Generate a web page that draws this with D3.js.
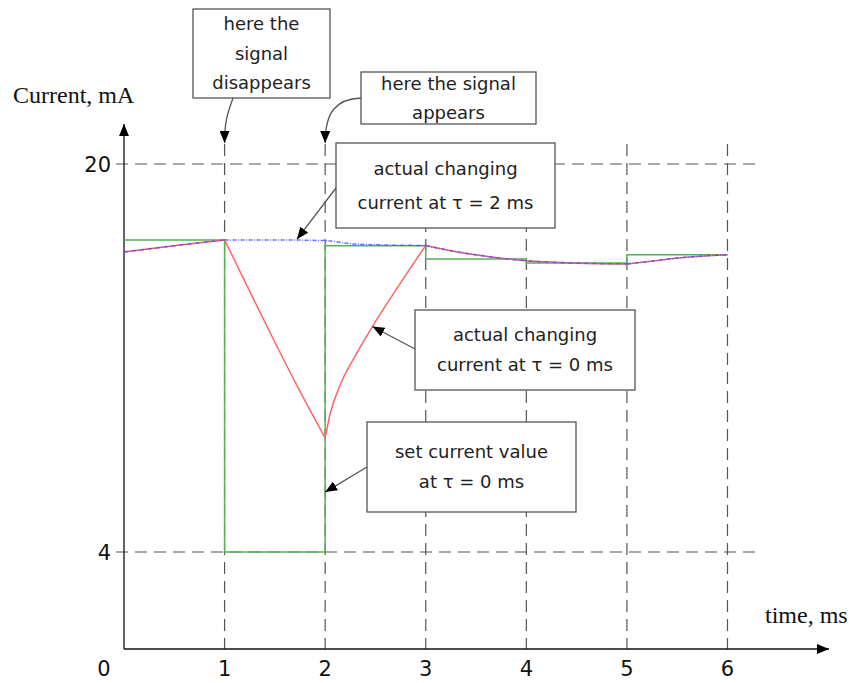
<!DOCTYPE html>
<meta charset="utf-8">
<style>
    body { margin: 0; background: #fff; }
    svg { display: block; }
    .grid { stroke: #555; stroke-width: 1.2px; stroke-dasharray: 12 7; fill: none; }
    .axis { stroke: #111; stroke-width: 1.3px; fill: none; }
    .tick { font-family: "DejaVu Sans", Verdana, sans-serif; font-size: 21px; fill: #111; }
    .title { font-family: "Liberation Serif", "Times New Roman", serif; font-size: 24px; fill: #111; }
    .box rect { fill: #fff; stroke: #555; stroke-width: 1.3px; }
    .box text { font-family: "DejaVu Sans", Verdana, sans-serif; font-size: 18px; fill: #222; }
    .pointer { stroke: #555; stroke-width: 1.3px; fill: none; }
</style>
<body>
<script src="https://d3js.org/d3.v7.min.js"></script>
<script>
    // ---- data (time in ms, current in mA) ----
    var xTicks = [1, 2, 3, 4, 5, 6];
    var yTicks = [4, 20];

    var setTime = [0, 1, 1, 2, 2, 3, 3, 4, 4, 5, 5, 6];
    var setCurrent = [16.87, 16.87, 4, 4, 16.63, 16.63, 16.08, 16.08, 15.92, 15.92, 16.26, 16.26];

    var tau0Time = [0, 0.3, 0.62, 1, 1.25, 1.5, 1.75, 2, 2.05, 2.15, 2.3, 2.5, 2.75, 3, 3.28, 3.61, 4, 4.44, 5, 5.28, 5.5, 6];
    var tau0Current = [16.37, 16.53, 16.69, 16.87, 14.75, 12.65, 10.62, 8.7, 9.7, 10.9, 12.1, 13.5, 15.1, 16.64, 16.4, 16.19, 16.01, 15.92, 15.88, 16.01, 16.12, 16.26];
    var tau0Corners = [1, 2, 3, 5];

    var tau2Time = [0, 0.3, 0.62, 1, 1.5, 2, 2.28, 2.61, 3, 3.28, 3.61, 4, 4.44, 5, 5.28, 5.5, 6];
    var tau2Current = [16.37, 16.53, 16.69, 16.87, 16.87, 16.84, 16.7, 16.66, 16.64, 16.4, 16.19, 16.01, 15.92, 15.88, 16.01, 16.12, 16.26];
    var tau2Corners = [1, 3, 5];

    // annotation boxes (pixel layout) and where their arrows point (data coords)
    var notes = [
        { lines: ["here the", "signal", "disappears"], x: 193, y: 9, w: 137, h: 89, dy: 29.5 },
        { lines: ["here the signal", "appears"], x: 361, y: 72, w: 175, h: 52, dy: 29 },
        { lines: ["actual changing", "current at \u03c4 = 2 ms"], x: 336, y: 143, w: 219, h: 85, dy: 34 },
        { lines: ["actual changing", "current at \u03c4 = 0 ms"], x: 415, y: 310, w: 220, h: 80, dy: 30 },
        { lines: ["set current value", "at \u03c4 = 0 ms"], x: 367, y: 422, w: 209, h: 90, dy: 30 }
    ];

    var width = 851, height = 683;

    var x = d3.scaleLinear().domain([0, 6]).range([124, 727.5]);
    var y = d3.scaleLinear().domain([0, 20]).range([649, 164]);

    var svg = d3.select("body").append("svg")
        .attr("width", width)
        .attr("height", height);

    var defs = svg.append("defs");
    defs.append("marker")
        .attr("id", "head")
        .attr("viewBox", "0 0 12 10")
        .attr("refX", 12).attr("refY", 5)
        .attr("markerWidth", 12).attr("markerHeight", 10)
        .attr("markerUnits", "userSpaceOnUse")
        .attr("orient", "auto")
        .append("path")
        .attr("d", "M0,0 L12,5 L0,10 Z")
        .attr("fill", "#000");

    /* ------- GRID -------*/
    var grid = svg.append("g");
    grid.selectAll("line.h").data(yTicks).enter().append("line")
        .attr("class", "grid")
        .attr("x1", 116).attr("x2", 760)
        .attr("y1", function (d) { return y(d); })
        .attr("y2", function (d) { return y(d); });
    grid.selectAll("line.v").data(xTicks).enter().append("line")
        .attr("class", "grid")
        .attr("x1", function (d) { return x(d); })
        .attr("x2", function (d) { return x(d); })
        .attr("y1", 144).attr("y2", y(0));

    /* ------- AXES -------*/
    svg.append("line").attr("class", "axis")
        .attr("x1", x(0)).attr("y1", y(0)).attr("x2", x(0)).attr("y2", 124)
        .attr("marker-end", "url(#head)");
    svg.append("line").attr("class", "axis")
        .attr("x1", x(0)).attr("y1", y(0)).attr("x2", 829).attr("y2", y(0))
        .attr("marker-end", "url(#head)");

    svg.selectAll("text.xt").data(xTicks).enter().append("text")
        .attr("class", "tick")
        .attr("x", function (d) { return x(d); })
        .attr("y", 676)
        .attr("text-anchor", "middle")
        .text(function (d) { return d; });
    svg.append("text").attr("class", "tick")
        .attr("x", 104).attr("y", 676).attr("text-anchor", "middle").text("0");
    svg.selectAll("text.yt").data(yTicks).enter().append("text")
        .attr("class", "tick")
        .attr("x", 111)
        .attr("y", function (d) { return y(d) + 8; })
        .attr("text-anchor", "end")
        .text(function (d) { return d; });

    svg.append("text").attr("class", "title")
        .attr("x", 13).attr("y", 103).text("Current, mA");
    svg.append("text").attr("class", "title")
        .attr("x", 765).attr("y", 623).text("time, ms");

    /* ------- SERIES -------*/
    function pieces(ts, vs, corners) {
        var out = [], cur = [];
        ts.forEach(function (t, i) {
            cur.push([t, vs[i]]);
            if (corners.indexOf(t) >= 0 && cur.length > 1) {
                out.push(cur);
                cur = [[t, vs[i]]];
            }
        });
        if (cur.length > 1) out.push(cur);
        return out;
    }

    var smooth = d3.line()
        .x(function (d) { return x(d[0]); })
        .y(function (d) { return y(d[1]); })
        .curve(d3.curveMonotoneX);

    var straight = d3.line()
        .x(function (d) { return x(d[0]); })
        .y(function (d) { return y(d[1]); });

    svg.append("path")
        .datum(setTime.map(function (t, i) { return [t, setCurrent[i]]; }))
        .attr("d", straight)
        .attr("fill", "none")
        .attr("stroke", "#55b255")
        .attr("stroke-width", 1.5);

    svg.append("g").selectAll("path")
        .data(pieces(tau0Time, tau0Current, tau0Corners))
        .enter().append("path")
        .attr("d", smooth)
        .attr("fill", "none")
        .attr("stroke", "#ff6666")
        .attr("stroke-width", 1.5);

    svg.append("g").selectAll("path")
        .data(pieces(tau2Time, tau2Current, tau2Corners))
        .enter().append("path")
        .attr("d", smooth)
        .attr("fill", "none")
        .attr("stroke", "#4848ff")
        .attr("stroke-opacity", 0.8)
        .attr("stroke-dasharray", "4 1.5 1 1.5")
        .attr("stroke-width", 1.5);

    /* ------- ANNOTATIONS -------*/
    var box = svg.selectAll("g.box").data(notes).enter().append("g")
        .attr("class", "box");
    box.append("rect")
        .attr("x", function (d) { return d.x; })
        .attr("y", function (d) { return d.y; })
        .attr("width", function (d) { return d.w; })
        .attr("height", function (d) { return d.h; });
    box.each(function (d) {
        var g = d3.select(this);
        var n = d.lines.length;
        d.lines.forEach(function (s, i) {
            g.append("text")
                .attr("x", d.x + d.w / 2)
                .attr("y", d.y + d.h / 2 + (i - (n - 1) / 2) * d.dy)
                .attr("dy", "0.36em")
                .attr("text-anchor", "middle")
                .text(s);
        });
    });

    // curved pointers to the moments the signal changes
    svg.append("path").attr("class", "pointer")
        .attr("d", "M233,98 C229,110 " + x(1) + ",118 " + x(1) + ",143")
        .attr("stroke", "#333")
        .attr("marker-end", "url(#head)");
    svg.append("path").attr("class", "pointer")
        .attr("d", "M361,98 C336,99 " + x(2) + ",112 " + x(2) + ",143")
        .attr("stroke", "#333")
        .attr("marker-end", "url(#head)");

    // straight pointers to the curves
    var pointers = [
        { from: [336, 188], to: [1.72, 16.9] },
        { from: [415, 349], to: [2.47, 13.3] },
        { from: [367, 467], to: [2.0, 6.47] }
    ];
    svg.selectAll("line.pointer").data(pointers).enter().append("line")
        .attr("class", "pointer")
        .attr("x1", function (d) { return d.from[0]; })
        .attr("y1", function (d) { return d.from[1]; })
        .attr("x2", function (d) { return x(d.to[0]); })
        .attr("y2", function (d) { return y(d.to[1]); })
        .attr("marker-end", "url(#head)");
</script>
</body>
